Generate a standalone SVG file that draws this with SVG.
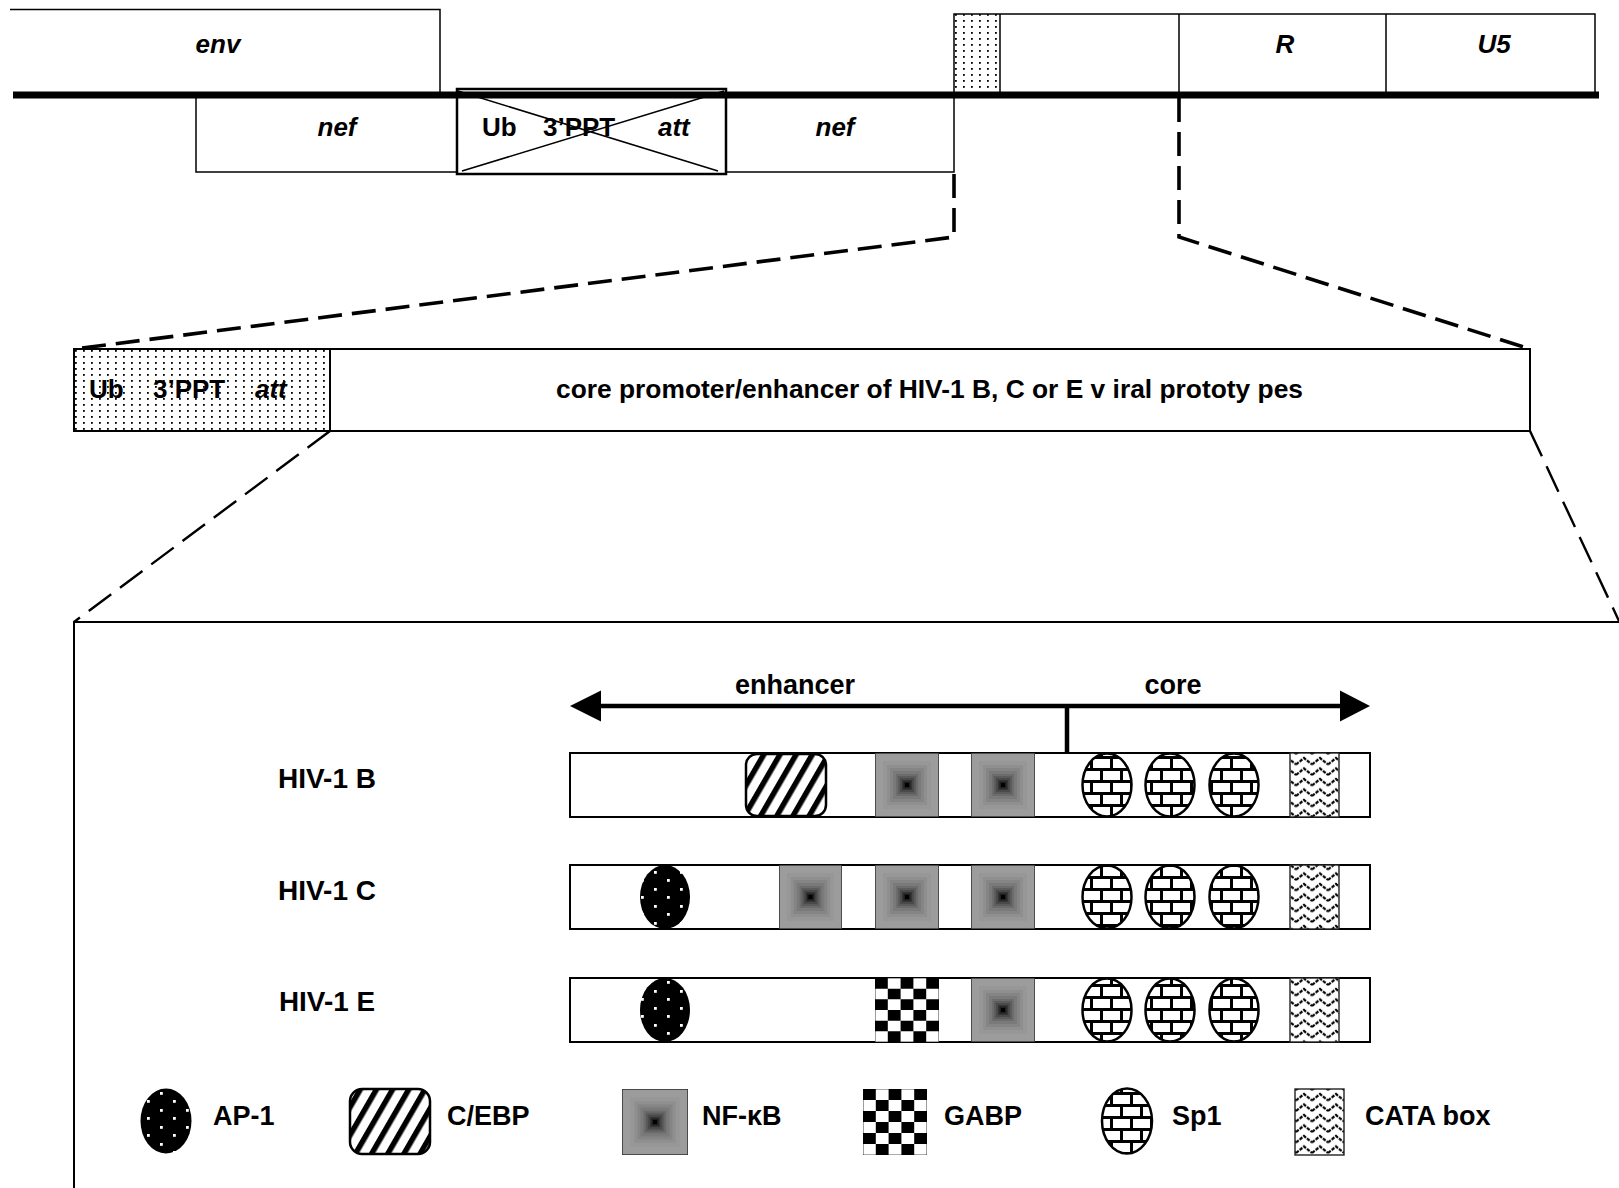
<svg xmlns="http://www.w3.org/2000/svg" width="1619" height="1188" viewBox="0 0 1619 1188">
<style>
text{font-family:"Liberation Sans",Arial,Helvetica,sans-serif;font-weight:bold;fill:#000}
.it{font-style:italic}
.t26{font-size:26px}
.t27{font-size:27px}
.t28{font-size:28px}
.mid{text-anchor:middle}
.box{fill:#fff;stroke:#000;stroke-width:1.5}
.ln{fill:none;stroke:#000;stroke-width:1.5}
.dash{fill:none;stroke:#000;stroke-width:3.6;stroke-dasharray:24 10}
.dash2{fill:none;stroke:#000;stroke-width:2.4;stroke-dasharray:28 11}
.bar{fill:#fff;stroke:#000;stroke-width:2}
.sp1{fill:url(#brick);stroke:#000;stroke-width:2.5}
.ap1{fill:url(#ap1)}
.cebp{fill:url(#stripes);stroke:#000;stroke-width:2.5}
.cata{fill:url(#zig);stroke:#222;stroke-width:1.4}
</style>
<defs>
  <pattern id="stip" width="8" height="6" patternUnits="userSpaceOnUse">
    <rect width="8" height="6" fill="#fff"/>
    <rect x="3" y="2" width="1.8" height="1.8" fill="#000"/>
  </pattern>
  <pattern id="ap1" width="26" height="34" patternUnits="userSpaceOnUse">
    <rect width="26" height="34" fill="#000"/>
    <rect x="4" y="4" width="2.8" height="2.8" fill="#fff"/>
    <rect x="17" y="12" width="2.8" height="2.8" fill="#fff"/>
    <rect x="4" y="21" width="2.8" height="2.8" fill="#fff"/>
    <rect x="17" y="29" width="2.8" height="2.8" fill="#fff"/>
  </pattern>
  <pattern id="stripes" width="14" height="14" patternUnits="userSpaceOnUse" patternTransform="rotate(30)">
    <rect width="14" height="14" fill="#fff"/>
    <rect width="5.5" height="14" fill="#000"/>
  </pattern>
  <pattern id="brick" width="40" height="24" patternUnits="userSpaceOnUse">
    <rect width="40" height="24" fill="#fff"/>
    <path d="M0 1.5H40M0 13.5H40M1.5 1.5V13.5M21.5 1.5V13.5M11.5 13.5V25.5M31.5 13.5V25.5" stroke="#000" stroke-width="3" fill="none"/>
  </pattern>
  <pattern id="zig" width="16" height="10.5" patternUnits="userSpaceOnUse">
    <rect width="16" height="10.5" fill="#fff"/>
    <polyline points="0,8.5 8,2 16,8.5" fill="none" stroke="#000" stroke-width="2.2" stroke-dasharray="3.5 1.2"/>
  </pattern>
  <symbol id="nfkb" viewBox="0 0 64 64" preserveAspectRatio="none">
    <rect x="0" y="0" width="64" height="64" fill="#9c9c9c" stroke="#333" stroke-width="1.5"/>
    <rect x="8" y="8" width="48" height="48" fill="#979797"/>
    <rect x="12" y="12" width="40" height="40" fill="#8f8f8f"/>
    <rect x="15" y="15" width="34" height="34" fill="#858585"/>
    <rect x="18" y="18" width="28" height="28" fill="#7a7a7a"/>
    <rect x="21" y="21" width="22" height="22" fill="#6c6c6c"/>
    <rect x="23" y="23" width="18" height="18" fill="#5c5c5c"/>
    <rect x="25" y="25" width="14" height="14" fill="#4a4a4a"/>
    <rect x="27" y="27" width="10" height="10" fill="#363636"/>
    <rect x="28.5" y="28.5" width="7" height="7" fill="#1f1f1f"/>
    <rect x="30" y="30" width="4" height="4" fill="#000"/>
  </symbol>
  <symbol id="gabp" viewBox="0 0 5 6" preserveAspectRatio="none">
    <rect width="5" height="6" fill="#fff"/>
    <path d="M0 0h1v1H0zM2 0h1v1H2zM4 0h1v1H4zM1 1h1v1H1zM3 1h1v1H3zM0 2h1v1H0zM2 2h1v1H2zM4 2h1v1H4zM1 3h1v1H1zM3 3h1v1H3zM0 4h1v1H0zM2 4h1v1H2zM4 4h1v1H4zM1 5h1v1H1zM3 5h1v1H3z" fill="#000"/>
    <rect width="5" height="6" fill="none" stroke="#000" stroke-width="0.06"/>
  </symbol>
</defs>

<rect width="1619" height="1188" fill="#fff"/>

<!-- top genome map -->
<g id="env">
  <path class="ln" d="M10 9.5H440V94"/>
  <text class="t26 it mid" x="218" y="53">env</text>
</g>
<g id="ltr-top">
  <rect x="954" y="14" width="46" height="80" fill="url(#stip)"/>
  <path class="ln" d="M954 94V14H1595V94M1000 14V94M1179 14V94M1386 14V94"/>
  <text class="t26 it mid" x="1285" y="53">R</text>
  <text class="t26 it mid" x="1494" y="53">U5</text>
</g>
<g id="nef-left">
  <rect class="box" x="196" y="94" width="261" height="78"/>
  <text class="t26 it mid" x="337" y="136">nef</text>
</g>
<g id="nef-right">
  <rect class="box" x="726" y="94" width="228" height="78"/>
  <text class="t26 it mid" x="835" y="136">nef</text>
</g>
<g id="deleted-region">
  <rect x="457" y="89" width="269" height="85" fill="#fff" stroke="#000" stroke-width="2.5"/>
  <text class="t26" x="482" y="136">Ub</text>
  <text class="t26" x="543" y="136">3’PPT</text>
  <text class="t26 it" x="658" y="136">att</text>
  <path class="ln" stroke-width="2" d="M458 91L718 171M724 91L462 171"/>
</g>
<g id="backbone">
  <path d="M13 95H1599" stroke="#000" stroke-width="7"/>
</g>

<!-- middle LTR box -->
<g id="ltr-expanded">
  <rect x="74" y="349" width="1456" height="82" fill="#fff" stroke="#000" stroke-width="2"/>
  <rect x="74" y="349" width="256" height="82" fill="url(#stip)" stroke="#000" stroke-width="2"/>
  <text class="t26" x="89" y="398">Ub</text>
  <text class="t26" x="153" y="398">3’PPT</text>
  <text class="t26 it" x="255" y="398">att</text>
  <text class="t26" x="556" y="398" textLength="747" lengthAdjust="spacingAndGlyphs">core promoter/enhancer of HIV-1 B, C or E v iral prototy pes</text>
</g>

<!-- detail panel -->
<g id="detail-panel">
  <path d="M74 1190V622H1621" fill="none" stroke="#000" stroke-width="2"/>
</g>

<g id="connectors">
  <path class="dash" d="M954 174V237L74 349"/>
  <path class="dash" d="M1179 98V237L1530 349"/>
  <path class="dash2" d="M330 431L74 622"/>
  <path class="dash2" d="M1530 431L1619 621"/>
  <g id="enhancer-core-arrow">
    <path d="M598 706H1343M1067 706V753" stroke="#000" stroke-width="4.5" fill="none"/>
    <polygon points="570,706 601,690.5 601,721.5" fill="#000"/>
    <polygon points="1370,706 1340,690.5 1340,721.5" fill="#000"/>
  </g>
</g>
<g id="arrow-labels">
  <text class="t27 mid" x="795" y="694">enhancer</text>
  <text class="t27 mid" x="1173" y="694">core</text>
</g>

<g id="row-B">
  <text class="t28 mid" x="327" y="788" textLength="98" lengthAdjust="spacingAndGlyphs">HIV-1 B</text>
  <rect class="bar" x="570" y="753" width="800" height="64"/>
  <rect class="cebp" x="746" y="754" width="80" height="62" rx="11"/>
  <use href="#nfkb" x="875" y="753" width="64" height="64"/>
  <use href="#nfkb" x="971" y="753" width="64" height="64"/>
  <ellipse class="sp1" cx="1107" cy="785" rx="24.5" ry="31.5"/>
  <ellipse class="sp1" cx="1170" cy="785" rx="24.5" ry="31.5"/>
  <ellipse class="sp1" cx="1234" cy="785" rx="24.5" ry="31.5"/>
  <rect class="cata" x="1290" y="753" width="49" height="64"/>
</g>

<g id="row-C">
  <text class="t28 mid" x="327" y="900" textLength="98" lengthAdjust="spacingAndGlyphs">HIV-1 C</text>
  <rect class="bar" x="570" y="865" width="800" height="64"/>
  <ellipse class="ap1" cx="665" cy="897" rx="25" ry="32"/>
  <use href="#nfkb" x="779" y="865" width="63" height="64"/>
  <use href="#nfkb" x="875" y="865" width="64" height="64"/>
  <use href="#nfkb" x="971" y="865" width="64" height="64"/>
  <ellipse class="sp1" cx="1107" cy="897" rx="24.5" ry="31.5"/>
  <ellipse class="sp1" cx="1170" cy="897" rx="24.5" ry="31.5"/>
  <ellipse class="sp1" cx="1234" cy="897" rx="24.5" ry="31.5"/>
  <rect class="cata" x="1290" y="865" width="49" height="64"/>
</g>

<g id="row-E">
  <text class="t28 mid" x="327" y="1011" textLength="96" lengthAdjust="spacingAndGlyphs">HIV-1 E</text>
  <rect class="bar" x="570" y="978" width="800" height="64"/>
  <ellipse class="ap1" cx="665" cy="1010" rx="25" ry="32"/>
  <use href="#gabp" x="875" y="978" width="64" height="64"/>
  <use href="#nfkb" x="971" y="978" width="64" height="64"/>
  <ellipse class="sp1" cx="1107" cy="1010" rx="24.5" ry="31.5"/>
  <ellipse class="sp1" cx="1170" cy="1010" rx="24.5" ry="31.5"/>
  <ellipse class="sp1" cx="1234" cy="1010" rx="24.5" ry="31.5"/>
  <rect class="cata" x="1290" y="978" width="49" height="64"/>
</g>

<g id="legend">
  <g id="legend-ap1">
    <ellipse class="ap1" cx="166" cy="1121" rx="25.5" ry="32.5"/>
    <text class="t27" x="213" y="1125">AP-1</text>
  </g>
  <g id="legend-cebp">
    <rect class="cebp" x="350" y="1089" width="80" height="65" rx="12"/>
    <text class="t27" x="447" y="1125">C/EBP</text>
  </g>
  <g id="legend-nfkb">
    <use href="#nfkb" x="622" y="1089" width="66" height="66"/>
    <text class="t27" x="702" y="1125">NF-κB</text>
  </g>
  <g id="legend-gabp">
    <use href="#gabp" x="863" y="1089" width="64" height="66"/>
    <text class="t27" x="944" y="1125">GABP</text>
  </g>
  <g id="legend-sp1">
    <ellipse class="sp1" cx="1127" cy="1121" rx="25" ry="32.5"/>
    <text class="t27" x="1172" y="1125">Sp1</text>
  </g>
  <g id="legend-cata">
    <rect class="cata" x="1295" y="1089" width="49" height="66"/>
    <text class="t27" x="1365" y="1125">CATA box</text>
  </g>
</g>
</svg>
